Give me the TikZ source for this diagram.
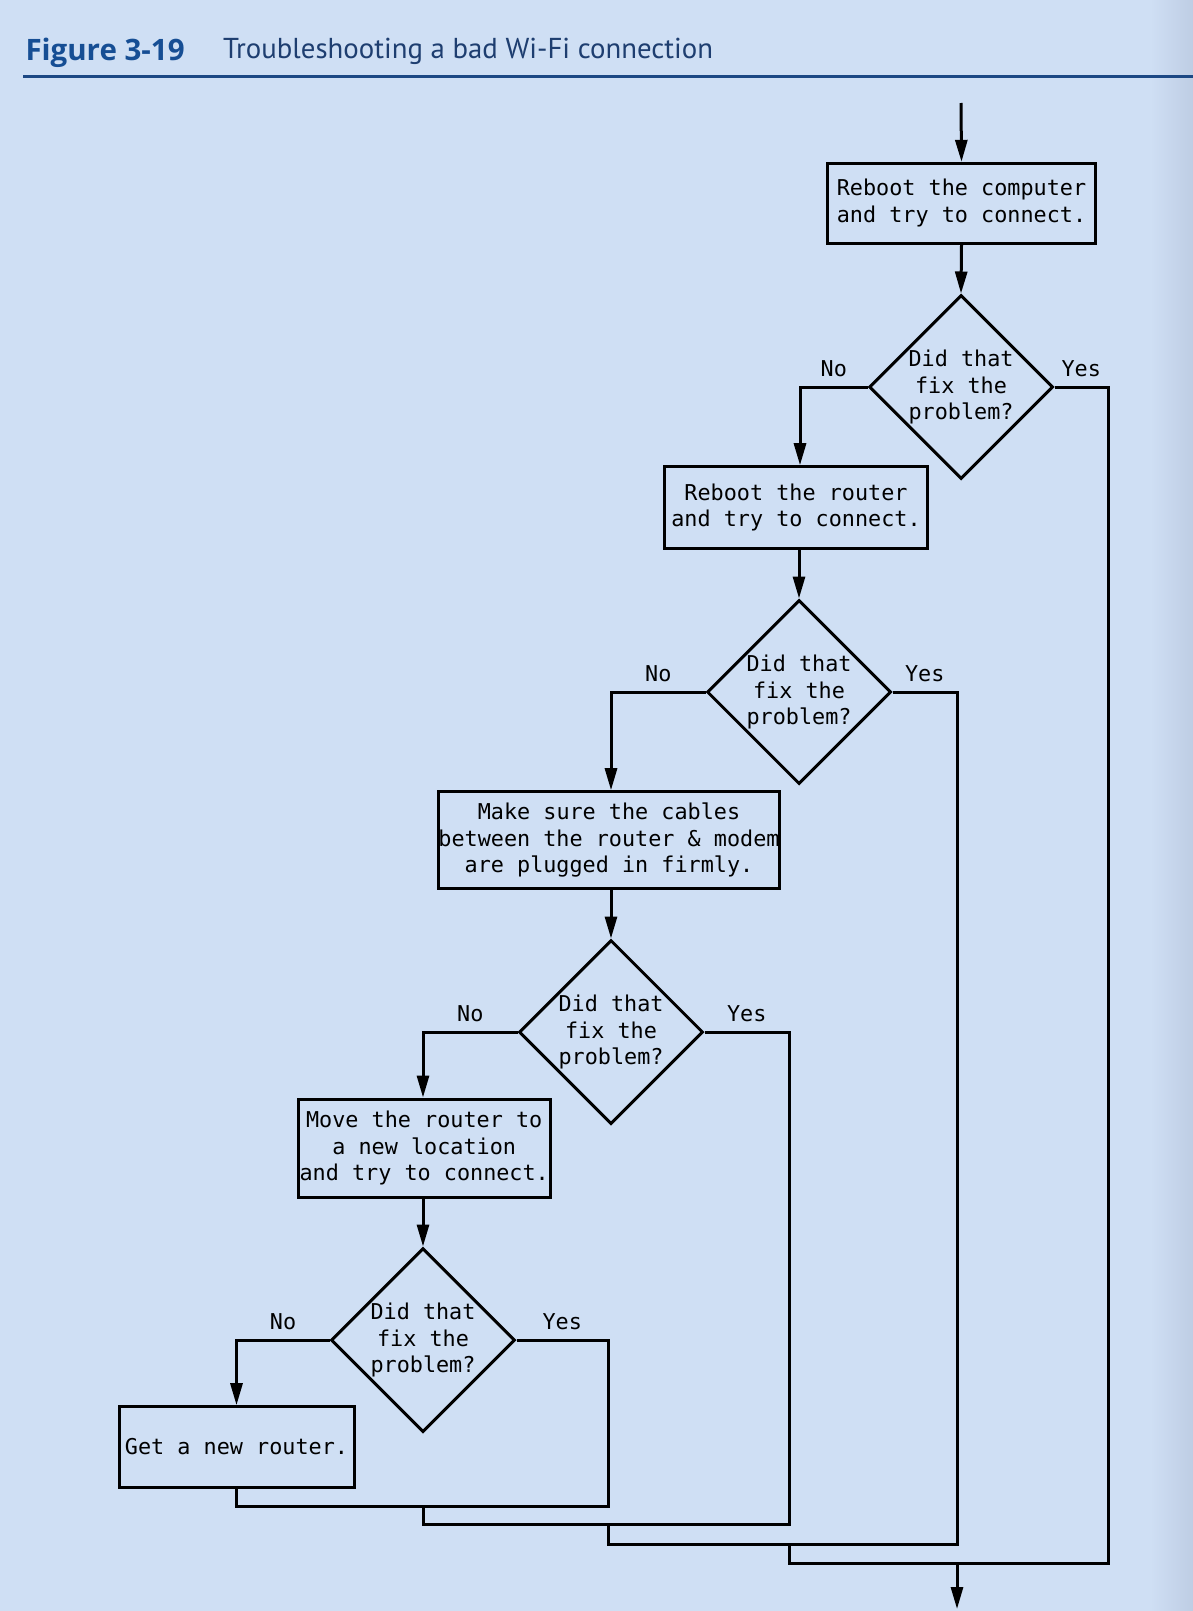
\documentclass[tikz,border=0pt]{standalone}
\usepackage{fontspec}
\setmonofont{DejaVu Sans Mono}
\newfontfamily\titlefont{PT Sans}
\newfontfamily\figfont{Open Sans}
\usepackage{tikz}
\usetikzlibrary{shapes.geometric}
\usetikzlibrary{arrows.meta}
\definecolor{pageblue}{RGB}{207,223,244}
\definecolor{edgeblue}{RGB}{190,205,228}
\definecolor{figblue}{RGB}{22,78,148}
\definecolor{capblue}{RGB}{30,62,112}
\definecolor{ruleblue}{RGB}{28,72,132}
\newcommand{\boxfont}{\ttfamily\fontsize{21.8}{26.8}\selectfont}
\tikzset{
  box/.style={draw, line width=3pt, inner sep=0pt, align=center, font=\boxfont},
  dec/.style={draw, diamond, aspect=1, line width=3pt, inner sep=0pt,
    minimum width=184pt, minimum height=184pt, align=center, font=\boxfont},
  lbl/.style={above=9pt, inner sep=0pt, text depth=0pt, font=\boxfont},
  arr/.style={-{Triangle[length=22pt,width=12pt]}},
}

\begin{document}
\begin{tikzpicture}[x=1pt, y=-1pt, line width=3pt]
      \fill[pageblue] (0,0) rectangle (1193,1611);
      \shade[left color=pageblue, right color=edgeblue, draw=none] (1150,0) rectangle (1193,1611);
      \useasboundingbox (0,0) rectangle (1193,1611);

      \node[anchor=base west, inner sep=0pt, text=figblue,
        font=\figfont\bfseries\fontsize{29.5}{34}\selectfont] (fig) at (24,60) {Figure 3-19};
      \node[anchor=base west, inner sep=0pt, text=capblue,
        font=\titlefont\fontsize{28.8}{34}\selectfont] (cap) at (221.7,59) {Troubleshooting a bad Wi-Fi connection};
      \draw[ruleblue, line width=3.5pt] (23.3,76.7) -- (1193,76.7);

      \coordinate (In) at (961,103);
      \coordinate (Out) at (957,1609);
      \coordinate (J1) at (608,1506);
      \coordinate (J2) at (789,1524);
      \coordinate (J3) at (957,1544);
      \coordinate (J4) at (1108,1563);

      \node[box, minimum width=268pt, minimum height=80pt] (B1) at (961.5,203.3)
        {Reboot the computer\\and try to connect.};
      \node[dec] (D1) at (961,387) {Did that\\fix the\\problem?};
      \node[box, minimum width=263pt, minimum height=81.6pt] (B2) at (796,507.5)
        {Reboot the router\\and try to connect.};
      \node[dec] (D2) at (799,692) {Did that\\fix the\\problem?};
      \node[box, minimum width=340.6pt, minimum height=96.6pt] (B3) at (609,840)
        {Make sure the cables\\between the router \& modem\\are plugged in firmly.};
      \node[dec] (D3) at (611,1032) {Did that\\fix the\\problem?};
      \node[box, minimum width=251.7pt, minimum height=98pt] (B4) at (424.2,1148)
        {Move the router to\\a new location\\and try to connect.};
      \node[dec] (D4) at (423,1340) {Did that\\fix the\\problem?};
      \node[box, minimum width=235pt, minimum height=80.6pt] (B5) at (236.5,1447)
        {Get a new router.};

      \draw[arr] (In) -- (B1.north);
      \draw[arr] (B1.south) -- (D1.north);
      \draw[arr] (D1.west) -| node[lbl, pos=0.25] {No} (B2.north -| 800,0);
      \draw[arr] (B2.south -| D2.north) -- (D2.north);
      \draw[arr] (D2.west) -| node[lbl, pos=0.25] {No} (B3.north -| D3.north);
      \draw[arr] (B3.south -| D3.north) -- (D3.north);
      \draw[arr] (D3.west) -| node[lbl, pos=0.25] {No} (B4.north -| D4.north);
      \draw[arr] (B4.south -| D4.north) -- (D4.north);
      \draw[arr] (D4.west) -| node[lbl, pos=0.25] {No} (B5.north);

      \draw (D4.east) -| node[lbl, pos=0.25] {Yes} (J1) -| (B5.south);
      \draw (D3.east) -| node[lbl, pos=0.25] {Yes} (J2) -| (D4.south |- J1);
      \draw (D2.east) -| node[lbl, pos=0.25] {Yes} (J3) -| (J1 |- J2);
      \draw (D1.east) -| node[lbl, pos=0.25] {Yes} (J4) -| (J2 |- J3);
      \draw[arr] (J3 |- J4) -- (Out);
    \end{tikzpicture}
\end{document}
